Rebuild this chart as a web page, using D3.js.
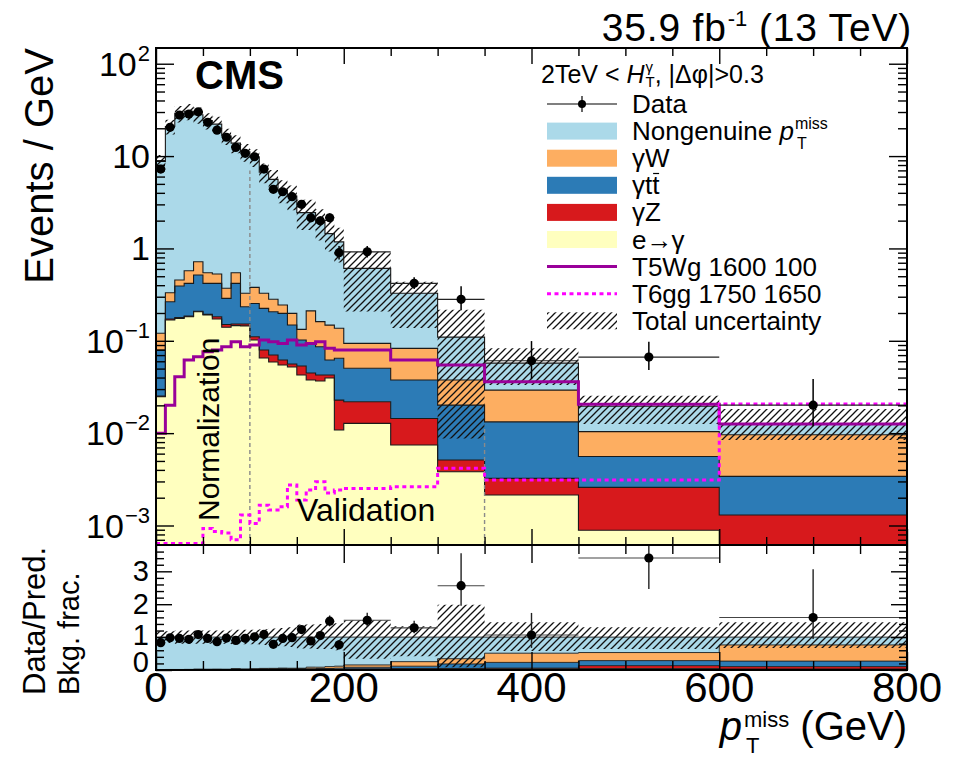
<!DOCTYPE html>
<html>
<head>
<meta charset="utf-8">
<script src="https://cdn.jsdelivr.net/npm/d3@7"></script>
<style>
  body { margin: 0; background: #fff; }
  svg { display: block; }
  text { font-family: "Liberation Sans", Arial, Helvetica, sans-serif; fill: #000; white-space: pre; }
</style>
</head>
<body>
<svg id="chart" width="964" height="758"></svg>
<script>
// ---- binning (GeV) ----
const binEdges = [0, 10, 20, 30, 40, 50, 60, 70, 80, 90, 100, 110, 120, 130, 140, 150, 160, 170, 180, 190, 200, 250, 300, 350, 450, 600, 800];

// ---- observed data (events / GeV) ----
const dataVals  = [7.24, 20.5, 27.8, 28.5, 30.2, 23.2, 19.1, 16.0, 12.4, 10.7, 9.84, 7.24, 4.37, 4.11, 3.63, 3.00, 2.15, 1.99, 2.15, 0.90, 0.92, 0.419, 0.281, 0.0608, 0.0667, 0.0201];
const dataErrUp = [0.75, 0.75, 0.85, 0.85, 0.9, 0.8, 0.7, 0.65, 0.55, 0.5, 0.5, 0.42, 0.33, 0.32, 0.3, 0.27, 0.25, 0.24, 0.25, 0.16, 0.14, 0.07, 0.108, 0.0385, 0.031, 0.0185];
const dataErrDn = [0.7, 0.72, 0.83, 0.83, 0.85, 0.75, 0.68, 0.62, 0.53, 0.48, 0.47, 0.4, 0.31, 0.3, 0.28, 0.25, 0.23, 0.22, 0.23, 0.14, 0.12, 0.055, 0.067, 0.0224, 0.0184, 0.0082];

// ---- background predictions (events / GeV), stacked bottom to top ----
const bkgEGamma     = [0.0248, 0.168, 0.175, 0.182, 0.206, 0.190, 0.172, 0.140, 0.146, 0.145, 0.102, 0.065, 0.0589, 0.0546, 0.052, 0.0426, 0.0376, 0.0367, 0.0395, 0.0108, 0.01277, 0.00743, 0.00382, 0.00214, 0.00089, 0.0004];
const bkgGammaZ     = [0.0004, 0.004, 0.003, 0.003, 0.003, 0.003, 0.010, 0.010, 0.006, 0.007, 0.0087, 0.0144, 0.0113, 0.0073, 0.004, 0.0107, 0.0072, 0.0059, 0.0031, 0.0120, 0.0091, 0.0070, 0.0013, 0.0011, 0.0017, 0.0009];
const bkgGammaTT    = [0.0542, 0.093, 0.214, 0.234, 0.306, 0.226, 0.237, 0.138, 0.267, 0.082, 0.143, 0.145, 0.136, 0.136, 0.092, 0.0487, 0.0489, 0.0436, 0.0193, 0.0418, 0.0285, 0.0232, 0.0150, 0.0100, 0.0030, 0.0021];
const bkgGammaW     = [0.0411, 0.066, 0.063, 0.154, 0.203, 0.127, 0.109, 0.082, 0.127, 0.093, 0.125, 0.103, 0.075, 0.046, 0.050, 0.031, 0.117, 0.075, 0.086, 0.072, 0.0433, 0.0452, 0.0175, 0.0160, 0.0048, 0.0062];
const bkgNongenuine = [8.60, 20.57, 28.5, 30.0, 27.3, 23.65, 21.67, 16.13, 13.25, 10.77, 9.36, 6.37, 5.32, 4.04, 3.50, 2.31, 2.23, 1.74, 1.30, 1.04, 0.515, 0.244, 0.072, 0.028, 0.0092, 0.0030];

// ---- relative total uncertainty on the prediction ----
const uncUp = [0.18, 0.18, 0.2, 0.2, 0.2, 0.2, 0.2, 0.2, 0.22, 0.22, 0.22, 0.24, 0.26, 0.28, 0.3, 0.38, 0.38, 0.4, 0.4, 0.42, 0.51, 0.33, 0.98, 0.45, 0.3, 0.45];
const uncDn = [0.18, 0.18, 0.2, 0.2, 0.2, 0.2, 0.2, 0.2, 0.22, 0.22, 0.22, 0.24, 0.26, 0.28, 0.3, 0.35, 0.35, 0.36, 0.36, 0.4, 0.66, 0.58, 0.92, 0.42, 0.36, 0.33];

// ---- signal benchmarks (events / GeV) ----
const sigT5Wg = [0.00996, 0.0201, 0.0408, 0.0619, 0.0672, 0.076, 0.0794, 0.0862, 0.0977, 0.0862, 0.090, 0.102, 0.0977, 0.0937, 0.102, 0.090, 0.0937, 0.0977, 0.0828, 0.0794, 0.0794, 0.0619, 0.0546, 0.0361, 0.0206, 0.01253];
const sigT6gg = [0.00064, 0.00064, 0.00064, 0.00064, 0.00064, 0.00093, 0.00086, 0.00083, 0.0007, 0.0013, 0.00105, 0.00166, 0.00147, 0.0016, 0.00274, 0.00189, 0.00242, 0.00298, 0.00225, 0.00242, 0.00252, 0.00263, 0.00416, 0.0031, 0.0031, 0.0207];

// ---- region boundaries: [pT, top of the marker line in events/GeV] ----
const regionLines = [[100, 7], [350, 0.012]];

// ---- axis ticks ----
const xMajorTicks = [0, 200, 400, 600, 800];
const xMinorTicks = [50, 100, 150, 250, 300, 350, 450, 500, 550, 650, 700, 750];
const yMajorTicks = [1e-3, 1e-2, 1e-1, 1, 10, 100];
const yTickLabels = [["10", "\u22123"], ["10", "\u22122"], ["10", "\u22121"], ["1", ""], ["10", ""], ["10", "2"]];
const ratioTicks = [0, 1, 2, 3];
const legendLabels = ["Data", "Nongenuine", "\u03b3W", "\u03b3tt", "\u03b3Z", "e\u2192\u03b3", "T5Wg 1600 100", "T6gg 1750 1650", "Total uncertainty"];

// ---------------------------------------------------------------
const xL = 156, xR = 907, yT = 48, yM = 545, yB = 670;
const svg = d3.select("#chart");
const defs = svg.append("defs");

const pat = defs.append("pattern").attr("id", "hatch").attr("patternUnits", "userSpaceOnUse")
  .attr("width", 7).attr("height", 7);
pat.append("path").attr("d", "M-1,1 L1,-1 M0,7 L7,0 M6,8 L8,6")
  .attr("stroke", "#111").attr("stroke-width", 1.3).attr("fill", "none");
defs.append("clipPath").attr("id", "clipTop").append("rect")
  .attr("x", xL).attr("y", yT).attr("width", xR - xL).attr("height", yM - yT);
defs.append("clipPath").attr("id", "clipLow").append("rect")
  .attr("x", xL).attr("y", yM).attr("width", xR - xL).attr("height", yB - yM);

const x = d3.scaleLinear().domain([0, 800]).range([xL, xR]);
const yTop = d3.scaleLog().domain([6.15e-4, 148]).range([yM, yT]);
const yLow = d3.scaleLinear().domain([0, 3.8]).range([yB, yM]);
const yMin = yTop.domain()[0];
const yv = v => yTop(Math.max(v, yMin * 0.5));

const nb = dataVals.length;
const bins = d3.range(nb).map(i => ({ x0: binEdges[i], x1: binEdges[i + 1] }));

const layers = [
  { name: "e\u2192\u03b3", vals: bkgEGamma, color: "#ffffbf" },
  { name: "\u03b3Z", vals: bkgGammaZ, color: "#d7191c" },
  { name: "\u03b3tt", vals: bkgGammaTT, color: "#2c7bb6" },
  { name: "\u03b3W", vals: bkgGammaW, color: "#fdae61" },
  { name: "Nongenuine", vals: bkgNongenuine, color: "#abd9e9" }
];
let run = new Array(nb).fill(0);
layers.forEach(L => {
  L.lo = run.slice();
  run = run.map((r, i) => r + L.vals[i]);
  L.hi = run.slice();
});
const total = run;

const stepPts = (lo, hi) => bins.flatMap((b, i) => [
  { x: b.x0, lo: lo[i], hi: hi[i] }, { x: b.x1, lo: lo[i], hi: hi[i] }]);

// ---------------- rich text helper (sup / sub scripts) ----------------
function rich(parent, px, py, segs, o) {
  const g = parent.append("g");
  const fs = o.fs;
  let cx = 0;
  for (const s of segs) {
    if (s.t !== undefined) {
      const t = g.append("text").attr("x", cx).attr("y", 0).attr("font-size", fs).text(s.t);
      if (s.it) t.attr("font-style", "italic");
      if (s.bold) t.attr("font-weight", "bold");
      if (s.ls !== undefined) t.attr("letter-spacing", s.ls);
      const w = t.node().getComputedTextLength();
      if (s.bar) {
        g.append("line").attr("x1", cx + w * 0.12).attr("x2", cx + w * 0.95)
          .attr("y1", -fs * 0.8).attr("y2", -fs * 0.8).attr("stroke", "#000").attr("stroke-width", 1.2);
      }
      cx += w;
    } else {
      const sfs = s.sfs || fs * 0.62;
      let w = 0;
      if (s.sup) {
        const t = g.append("text").attr("x", cx + (s.dx || 0)).attr("y", -s.rise).attr("font-size", sfs).text(s.sup);
        w = Math.max(w, t.node().getComputedTextLength());
      }
      if (s.sub) {
        const t = g.append("text").attr("x", cx + (s.dxs !== undefined ? s.dxs : (s.dx || 0))).attr("y", s.drop).attr("font-size", sfs).text(s.sub);
        w = Math.max(w, t.node().getComputedTextLength());
      }
      cx += w + (s.dx || 0) + (s.after || 0);
    }
  }
  const shift = o.anchor === "end" ? -cx : (o.anchor === "middle" ? -cx / 2 : 0);
  g.attr("transform", `translate(${px},${py})${o.rotate ? ` rotate(${o.rotate})` : ""} translate(${shift},0)`);
  return g;
}

// ======================= upper panel =======================
const gTop = svg.append("g").attr("clip-path", "url(#clipTop)");

const areaTop = d3.area().x(p => x(p.x)).y0(p => yv(p.lo)).y1(p => yv(p.hi));
const lineTop = d3.line().x(p => x(p.x)).y(p => yv(p.hi));

layers.forEach(L => {
  gTop.append("path").attr("d", areaTop(stepPts(L.lo, L.hi))).attr("fill", L.color).attr("stroke", "none");
});
layers.forEach(L => {
  gTop.append("path").attr("d", lineTop(stepPts(L.lo, L.hi)))
    .attr("fill", "none").attr("stroke", "#1a1a1a").attr("stroke-width", 1.1);
});

// total uncertainty band
const bandLo = total.map((t, i) => t * (1 - uncDn[i]));
const bandHi = total.map((t, i) => t * (1 + uncUp[i]));
gTop.append("path").attr("d", areaTop(stepPts(bandLo, bandHi))).attr("fill", "url(#hatch)");

// region markers
regionLines.forEach(([gx, vtop]) => {
  gTop.append("line").attr("x1", x(gx)).attr("x2", x(gx)).attr("y1", yM).attr("y2", yv(vtop))
    .attr("stroke", "#8a8a8a").attr("stroke-width", 1.4).attr("stroke-dasharray", "4,3");
});

// signals
gTop.append("path").attr("d", lineTop(stepPts(sigT5Wg, sigT5Wg)))
  .attr("fill", "none").attr("stroke", "#990099").attr("stroke-width", 3);
gTop.append("path").attr("d", lineTop(stepPts(sigT6gg, sigT6gg)))
  .attr("fill", "none").attr("stroke", "#ff00ff").attr("stroke-width", 3).attr("stroke-dasharray", "4,3.5");

// region annotations
svg.append("text").attr("transform", `translate(219,521) rotate(-90)`)
  .attr("font-size", 30).text("Normalization");
svg.append("text").attr("x", 297).attr("y", 521).attr("font-size", 32).text("Validation");

// data
const dTop = gTop.append("g");
bins.forEach((b, i) => {
  const cxp = x((b.x0 + b.x1) / 2), cyp = yv(dataVals[i]);
  dTop.append("line").attr("x1", x(b.x0)).attr("x2", x(b.x1)).attr("y1", cyp).attr("y2", cyp)
    .attr("stroke", "#222").attr("stroke-width", 1.2);
  dTop.append("line").attr("x1", cxp).attr("x2", cxp)
    .attr("y1", yv(dataVals[i] + dataErrUp[i])).attr("y2", yv(dataVals[i] - dataErrDn[i]))
    .attr("stroke", "#000").attr("stroke-width", 1.5);
  dTop.append("circle").attr("cx", cxp).attr("cy", cyp).attr("r", 4.6).attr("fill", "#000");
});

// ======================= lower panel =======================
const gLow = svg.append("g").attr("clip-path", "url(#clipLow)");
const areaLow = d3.area().x(p => x(p.x)).y0(p => yLow(p.lo)).y1(p => yLow(p.hi));
const lineLow = d3.line().x(p => x(p.x)).y(p => yLow(p.hi));

layers.forEach(L => {
  const lo = L.lo.map((v, i) => v / total[i]);
  const hi = L.hi.map((v, i) => v / total[i]);
  L.flo = lo; L.fhi = hi;
  gLow.append("path").attr("d", areaLow(stepPts(lo, hi))).attr("fill", L.color);
});
layers.forEach(L => {
  gLow.append("path").attr("d", lineLow(stepPts(L.flo, L.fhi)))
    .attr("fill", "none").attr("stroke", "#1a1a1a").attr("stroke-width", 0.9);
});
gLow.append("path").attr("d", areaLow(stepPts(uncDn.map(d => 1 - d), uncUp.map(u => 1 + u))))
  .attr("fill", "url(#hatch)");

bins.forEach((b, i) => {
  const r = dataVals[i] / total[i];
  const cxp = x((b.x0 + b.x1) / 2), cyp = yLow(r);
  gLow.append("line").attr("x1", x(b.x0)).attr("x2", x(b.x1)).attr("y1", cyp).attr("y2", cyp)
    .attr("stroke", "#444").attr("stroke-width", 1.1);
  gLow.append("line").attr("x1", cxp).attr("x2", cxp)
    .attr("y1", yLow(r + dataErrUp[i] / total[i])).attr("y2", yLow(r - dataErrDn[i] / total[i]))
    .attr("stroke", "#222").attr("stroke-width", 1.4);
  gLow.append("circle").attr("cx", cxp).attr("cy", cyp).attr("r", 4.6).attr("fill", "#000");
});

// ======================= frames & ticks =======================
function ticks(gen, scale, values, size, tx, ty) {
  const g = svg.append("g").attr("transform", `translate(${tx},${ty})`)
    .call(gen(scale).tickValues(values).tickSize(size).tickFormat(""));
  g.select(".domain").remove();
  g.selectAll(".tick line").attr("stroke", "#000").attr("stroke-width", 1.4);
}
const yMinor = [];
[1e-4, 1e-3, 1e-2, 1e-1, 1, 10, 100].forEach(d => {
  [2, 3, 4, 5, 6, 7, 8, 9].forEach(m => {
    const v = d * m;
    if (v > yTop.domain()[0] && v < yTop.domain()[1]) yMinor.push(v);
  });
});
// upper panel
ticks(d3.axisLeft, yTop, yMajorTicks, -18, xL, 0);
ticks(d3.axisLeft, yTop, yMinor, -9, xL, 0);
ticks(d3.axisRight, yTop, yMajorTicks, -18, xR, 0);
ticks(d3.axisRight, yTop, yMinor, -9, xR, 0);
ticks(d3.axisTop, x, xMajorTicks, -16, 0, yT);
ticks(d3.axisTop, x, xMinorTicks, -8, 0, yT);
ticks(d3.axisBottom, x, xMajorTicks, -16, 0, yM);
ticks(d3.axisBottom, x, xMinorTicks, -8, 0, yM);
// lower panel
const ratioMinor = [0.2, 0.4, 0.6, 0.8, 1.2, 1.4, 1.6, 1.8, 2.2, 2.4, 2.6, 2.8, 3.2, 3.4, 3.6];
ticks(d3.axisLeft, yLow, ratioTicks, -16, xL, 0);
ticks(d3.axisLeft, yLow, ratioMinor, -8, xL, 0);
ticks(d3.axisRight, yLow, ratioTicks, -16, xR, 0);
ticks(d3.axisRight, yLow, ratioMinor, -8, xR, 0);
ticks(d3.axisTop, x, xMajorTicks, -18, 0, yM);
ticks(d3.axisTop, x, xMinorTicks, -9, 0, yM);
ticks(d3.axisBottom, x, xMajorTicks, -18, 0, yB);
ticks(d3.axisBottom, x, xMinorTicks, -9, 0, yB);

svg.append("rect").attr("x", xL).attr("y", yT).attr("width", xR - xL).attr("height", yM - yT)
  .attr("fill", "none").attr("stroke", "#000").attr("stroke-width", 2);
svg.append("rect").attr("x", xL).attr("y", yM).attr("width", xR - xL).attr("height", yB - yM)
  .attr("fill", "none").attr("stroke", "#000").attr("stroke-width", 2);

// ======================= tick labels =======================
yMajorTicks.forEach((v, i) => {
  const [base, exp] = yTickLabels[i];
  const segs = [{ t: base }];
  if (exp) segs.push({ sup: exp, sfs: 22, rise: 15, dx: 1 });
  rich(svg, 150, yTop(v) + 12, segs, { fs: 34, anchor: "end" });
});
ratioTicks.forEach(v => {
  const yy = v === 0 ? yLow(v) - 8 : (v === 1 ? yLow(v) - 2 : yLow(v));
  svg.append("text").attr("x", 149).attr("y", yy + 10).attr("text-anchor", "end")
    .attr("font-size", 29).text(String(v));
});
xMajorTicks.forEach(v => {
  svg.append("text").attr("x", x(v)).attr("y", 702).attr("text-anchor", "middle")
    .attr("font-size", 42).text(String(v));
});

// ======================= axis titles =======================
svg.append("text").attr("transform", "translate(53,48) rotate(-90)").attr("text-anchor", "end")
  .attr("font-size", 40).text("Events / GeV");
svg.append("text").attr("transform", "translate(45,695) rotate(-90)")
  .attr("font-size", 31).text("Data/Pred.");
svg.append("text").attr("transform", "translate(79,695) rotate(-90)")
  .attr("font-size", 29).text("Bkg. frac.");
rich(svg, 907, 740, [{ t: "p", it: true }, { sup: "miss", sub: "T", sfs: 22, rise: 13, drop: 13, dx: 2, dxs: 4 }, { t: " (GeV)" }],
  { fs: 40, anchor: "end" });

// top labels
rich(svg, 912, 41, [{ t: "35.9 fb", ls: 0.8 }, { sup: "-1", sfs: 22, rise: 15, dx: 1 }, { t: " (13 TeV)", ls: 0.8 }], { fs: 39, anchor: "end" });
svg.append("text").attr("x", 195).attr("y", 89).attr("font-size", 40).attr("font-weight", "bold").text("CMS");

// ======================= legend =======================
const lg = svg.append("g");
rich(lg, 541, 83, [{ t: "2TeV < " }, { t: "H", it: true }, { sup: "\u03b3", sub: "T", sfs: 15, rise: 11, drop: 4, dx: 1 }, { t: ", |\u0394\u03c6|>0.3" }], { fs: 25 });

const lx0 = 547, lx1 = 617, ltx = 632, ly0 = 104, ldy = 27.1;
const legendRows = legendLabels.map((lab, i) => ({ lab, cy: ly0 + ldy * i }));

legendRows.forEach((row, i) => {
  const cy = row.cy;
  if (i === 0) {
    lg.append("line").attr("x1", lx0).attr("x2", lx1).attr("y1", cy).attr("y2", cy).attr("stroke", "#000").attr("stroke-width", 1.2);
    lg.append("line").attr("x1", (lx0 + lx1) / 2).attr("x2", (lx0 + lx1) / 2).attr("y1", cy - 8).attr("y2", cy + 8).attr("stroke", "#000").attr("stroke-width", 1.2);
    lg.append("circle").attr("cx", (lx0 + lx1) / 2).attr("cy", cy).attr("r", 4).attr("fill", "#000");
  } else if (i >= 1 && i <= 5) {
    const L = layers.find(l => l.name === row.lab);
    lg.append("rect").attr("x", lx0).attr("y", cy - 8.5).attr("width", lx1 - lx0).attr("height", 17).attr("fill", L.color);
  } else if (i === 6) {
    lg.append("line").attr("x1", lx0).attr("x2", lx1).attr("y1", cy).attr("y2", cy).attr("stroke", "#990099").attr("stroke-width", 3);
  } else if (i === 7) {
    lg.append("line").attr("x1", lx0).attr("x2", lx1).attr("y1", cy).attr("y2", cy).attr("stroke", "#ff00ff").attr("stroke-width", 3).attr("stroke-dasharray", "4,3.5");
  } else {
    lg.append("rect").attr("x", lx0).attr("y", cy - 8.5).attr("width", lx1 - lx0).attr("height", 17).attr("fill", "url(#hatch)");
  }
  let segs;
  if (row.lab === "Nongenuine") segs = [{ t: "Nongenuine " }, { t: "p", it: true }, { sup: "miss", sub: "T", sfs: 16, rise: 11, drop: 9, dx: 1, dxs: 3 }];
  else if (row.lab === "\u03b3tt") segs = [{ t: "\u03b3t" }, { t: "t", bar: true }];
  else if (row.lab === "e\u2192\u03b3") segs = [{ t: "e" }, { t: "\u2192", ls: -1 }, { t: "\u03b3" }];
  else segs = [{ t: row.lab }];
  rich(lg, ltx, cy + 9, segs, { fs: 26 });
});
</script>
</body>
</html>
